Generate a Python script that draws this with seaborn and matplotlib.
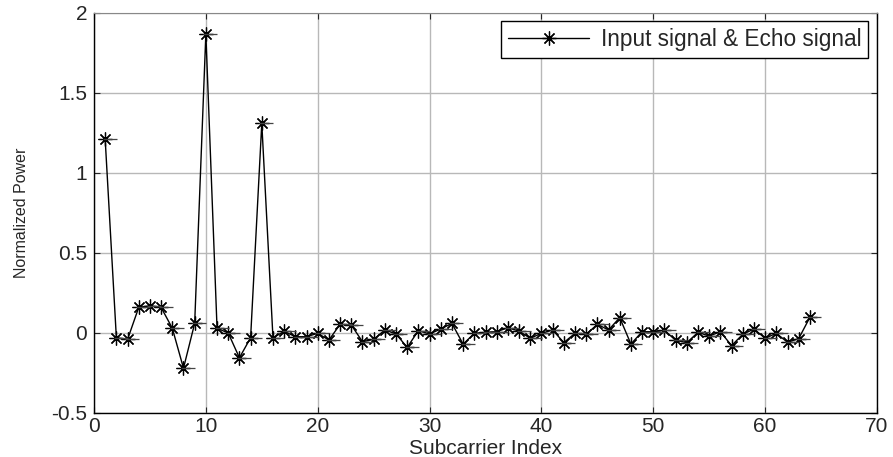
import numpy as np
import pandas as pd
import matplotlib
matplotlib.use("Agg")
import matplotlib.pyplot as plt
import seaborn as sns

subcarrier = list(range(1, 65))
power = [1.21, -0.03, -0.04, 0.16, 0.17, 0.16, 0.03, -0.22, 0.06, 1.87,
         0.03, 0.00, -0.155, -0.03, 1.31, -0.03, 0.01, -0.023, -0.023, -0.002,
         -0.044, 0.054, 0.05, -0.054, -0.04, 0.019, -0.006, -0.09, 0.015, -0.006,
         0.025, 0.06, -0.07, -0.002, 0.004, 0.008, 0.033, 0.012, -0.033, -0.002,
         0.019, -0.06, -0.002, -0.008, 0.054, 0.019, 0.096, -0.069, 0.008, 0.008,
         0.017, -0.046, -0.06, 0.004, -0.019, 0.008, -0.079, -0.008, 0.025, -0.033,
         -0.002, -0.058, -0.035, 0.098]
label = "Input signal & Echo signal"
xticks = [0, 10, 20, 30, 40, 50, 60, 70]
yticks = [-0.5, 0, 0.5, 1, 1.5, 2]
ytick_labels = ["-0.5", "0", "0.5", "1", "1.5", "2"]

df = pd.DataFrame({"Subcarrier Index": subcarrier, "Normalized Power": power})

sns.set_style("white")
plt.rcParams['font.family'] = ['Liberation Sans', 'DejaVu Sans']

fig = plt.figure(figsize=(8.93, 4.57), dpi=100)
ax = fig.add_axes([94/893, 44/457, (877-94)/893, 400/457])

sns.lineplot(data=df, x="Subcarrier Index", y="Normalized Power", ax=ax,
             color="black", linewidth=1.0, marker=(8, 2, 0), markersize=10,
             markeredgecolor="black", markeredgewidth=0.9, label=label)
# echo overlay (horizontal dashes)
ax.plot(np.array(subcarrier) + 0.4, power, linestyle="none", marker="_",
        markersize=10, color="#444444", markeredgewidth=0.9)

ax.set_xlim(0, 70)
ax.set_ylim(-0.5, 2)
ax.set_xticks(xticks)
ax.set_yticks(yticks)
ax.set_yticklabels(ytick_labels)
ax.grid(True, color="#b8b8b8", linewidth=1.0)
ax.tick_params(direction="in", length=4, width=0.8, labelsize=15,
               top=True, right=True, bottom=True, left=True)
ax.tick_params(axis="x", pad=3)
ax.tick_params(axis="y", pad=5)
for s in ["left", "bottom", "right"]:
    ax.spines[s].set_color("black")
    ax.spines[s].set_linewidth(1.0)
ax.spines["top"].set_color("#888888")
ax.spines["top"].set_linewidth(0.8)

ax.set_xlabel("Subcarrier Index", fontsize=15, labelpad=2)
ax.set_ylabel("Normalized Power", fontsize=11.5, labelpad=16)

leg = ax.legend(loc="upper right", bbox_to_anchor=(0.9885, 0.98), borderaxespad=0,
                fontsize=16.3, frameon=True, fancybox=False, edgecolor="black",
                framealpha=1, handlelength=3.6, borderpad=0.3, handletextpad=0.5)
leg.get_frame().set_linewidth(1.0)

fig.savefig("out.png", dpi=100)
